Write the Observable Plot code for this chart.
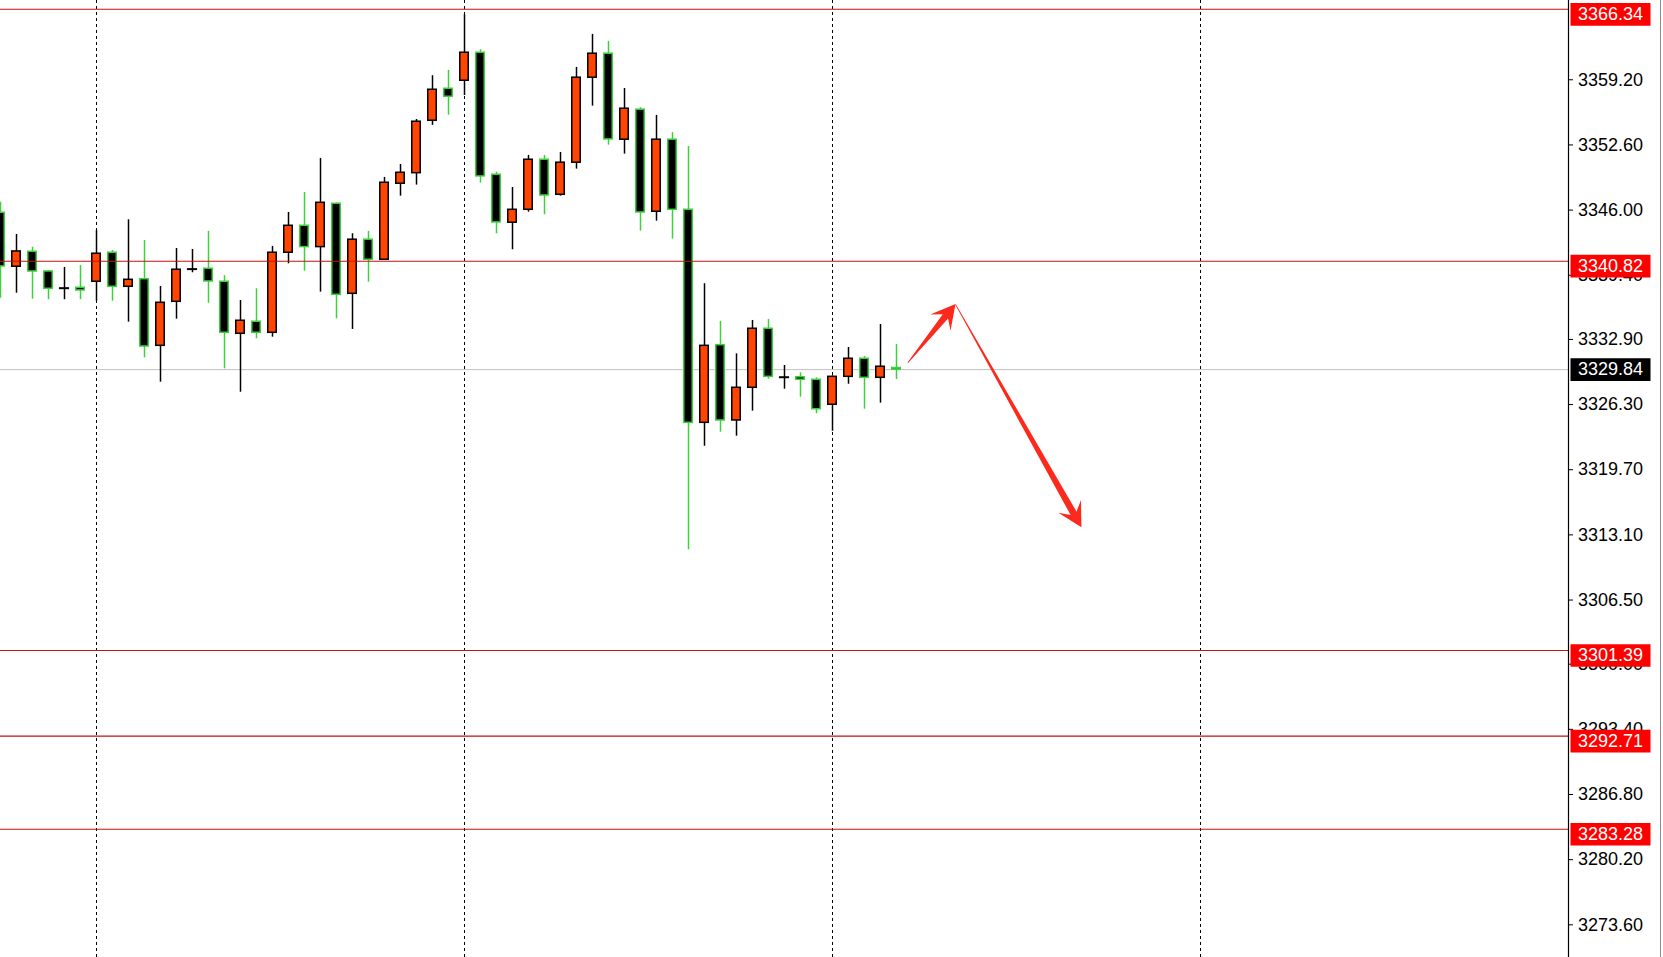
<!DOCTYPE html>
<html>
<head>
<meta charset="utf-8">
<script src="https://cdn.jsdelivr.net/npm/d3@7"></script>
<script src="https://cdn.jsdelivr.net/npm/@observablehq/plot@0.6"></script>
<style>
html, body { margin: 0; padding: 0; background: #fff; overflow: hidden; }
#chart { position: relative; width: 1663px; height: 957px; }
#chart svg { display: block; }
#edge { position: absolute; left: 1660px; top: 0; width: 1px; height: 957px; background: #8c8c8c; }
</style>
</head>
<body>
<div id="chart"><div id="edge"></div></div>
<script>
// ---- data (bar index 0..56, prices) ----
const openP  = [3345.73,3340.26,3341.78,3339.78,3338.09,3338.13,3338.74,3341.68,3338.23,3339.00,
                3332.25,3336.71,3340.02,3340.06,3338.74,3333.47,3334.69,3333.57,3341.68,3344.41,
                3342.25,3346.64,3337.52,3343.00,3340.97,3348.67,3349.74,3355.05,3358.29,3359.10,
                3361.94,3349.58,3344.72,3346.03,3351.10,3347.55,3350.80,3359.41,3361.84,3353.13,
                3356.17,3345.83,3353.13,3346.03,3324.45,3332.32,3324.69,3328.00,3333.98,3329.07,
                3329.07,3328.81,3326.28,3329.11,3330.94,3329.01,3330.00];
const highP  = [3346.80,3343.53,3342.24,3339.88,3340.19,3340.39,3343.94,3341.91,3345.02,3342.92,
                3338.26,3342.11,3342.01,3343.84,3339.35,3336.84,3338.03,3342.32,3345.76,3347.79,
                3351.23,3346.74,3343.60,3343.84,3349.31,3350.62,3355.18,3359.61,3360.15,3365.82,
                3362.24,3349.84,3348.29,3351.54,3351.54,3351.84,3360.45,3363.80,3363.09,3358.32,
                3356.37,3355.59,3353.84,3352.45,3338.54,3334.72,3331.44,3334.82,3334.92,3330.26,
                3329.52,3329.01,3329.20,3332.08,3331.17,3334.41,3332.39];
const lowP   = [3337.08,3337.58,3336.98,3336.92,3336.92,3336.92,3336.77,3336.77,3334.65,3331.04,
                3328.57,3334.95,3339.65,3336.57,3329.92,3327.55,3332.96,3333.13,3340.56,3339.81,
                3337.69,3334.99,3333.91,3338.70,3340.90,3347.41,3348.53,3354.58,3355.62,3357.61,
                3348.73,3343.60,3341.98,3345.79,3345.53,3347.41,3350.15,3356.53,3352.58,3351.67,
                3343.87,3344.88,3343.06,3311.59,3322.08,3323.50,3323.10,3325.63,3328.87,3327.86,
                3327.05,3325.37,3323.60,3328.36,3325.83,3326.44,3328.84];
const closeP = [3340.29,3341.81,3339.78,3338.03,3338.09,3337.86,3341.58,3338.23,3338.94,3332.18,
                3336.61,3339.96,3340.02,3338.77,3333.57,3334.79,3333.57,3341.68,3344.41,3342.25,
                3346.74,3337.42,3343.00,3340.97,3348.77,3349.78,3354.95,3358.19,3357.48,3361.94,
                3349.41,3344.75,3346.03,3351.10,3347.48,3350.80,3359.41,3361.84,3353.16,3356.27,
                3345.76,3353.13,3346.03,3324.45,3332.25,3324.69,3328.00,3333.98,3329.11,3329.07,
                3328.81,3325.83,3329.11,3330.94,3329.01,3330.13,3329.84];

const levelLines   = [3366.34, 3340.82, 3301.39, 3292.71, 3283.28];   // red horizontal lines
const currentPrice = [3329.84];                                      // bid line
const gridBars     = [6, 29, 52, 75];                                // dashed vertical separators
const yTicks       = [3359.20, 3352.60, 3346.00, 3339.40, 3332.90, 3326.30, 3319.70,
                      3313.10, 3306.50, 3300.00, 3293.40, 3286.80, 3280.20, 3273.60];
const yDomain      = [3270.29, 3367.23];
const xDomain      = [0, 98];

// arrows (bar index, price) from -> to
const arrowFromX = [56.74, 59.72];
const arrowFromY = [3330.49, 3336.40];
const arrowToX   = [59.72, 67.59];
const arrowToY   = [3336.44, 3313.82];

// ---- styling ----
const ORANGE = "#ff4500", GREEN = "#3bd13b", RED_LINE = "#c41010", RED_BOX = "#ff0000", ARROW = "#fb2a1c";

const candles = openP.map((o, i) => ({
  i, o, h: highP[i], l: lowP[i], c: closeP[i],
  dir: closeP[i] > o ? "up" : closeP[i] < o ? "down" : "flat"
}));
const bodyHalf = 0.266;

const redBox = { draw(ctx) { ctx.moveTo(2, -6.35); ctx.lineTo(82, -6.35); ctx.lineTo(82, 16.35); ctx.lineTo(2, 16.35); ctx.closePath(); } };
const blackBox = { draw(ctx) { ctx.moveTo(2, -11.35); ctx.lineTo(82, -11.35); ctx.lineTo(82, 11.35); ctx.lineTo(2, 11.35); ctx.closePath(); } };

function arrowsMark(index, scales) {
  const g = d3.create("svg:g");
  for (let k = 0; k < arrowFromX.length; k++) {
    const x0 = scales.x(arrowFromX[k]), y0 = scales.y(arrowFromY[k]);
    const x1 = scales.x(arrowToX[k]),   y1 = scales.y(arrowToY[k]);
    const dx = x1 - x0, dy = y1 - y0, L = Math.hypot(dx, dy);
    const ux = dx / L, uy = dy / L, nx = -uy, ny = ux;
    const P = (s, w) => [x0 + ux * s + nx * w, y0 + uy * s + ny * w];
    const pts = [P(0, 0.4), P(L - 16, 3.4), P(L - 24, 13), P(L, 0), P(L - 24, -13), P(L - 16, -3.4), P(0, -0.4)];
    g.append("path")
      .attr("d", "M" + pts.map(p => p[0].toFixed(2) + "," + p[1].toFixed(2)).join("L") + "Z")
      .attr("fill", ARROW);
  }
  return g.node();
}

const chart = Plot.plot({
  width: 1663,
  height: 957,
  marginLeft: 0,
  marginRight: 95,
  marginTop: 0,
  marginBottom: 0,
  style: { fontFamily: "'Liberation Sans', Arial, sans-serif", fontSize: "18px", background: "#fff", color: "#000" },
  x: { type: "linear", domain: xDomain, axis: null },
  y: { type: "linear", domain: yDomain, axis: null },
  marks: [
    Plot.ruleX(gridBars, { x: d => d, stroke: "#000", strokeWidth: 1, strokeDasharray: "3,3" }),
    Plot.ruleY(currentPrice, { y: d => d, stroke: "#c0c0c0", strokeWidth: 1 }),
    Plot.ruleX(candles, { x: "i", y1: "l", y2: "h", stroke: d => d.dir === "down" ? GREEN : "#000", strokeWidth: 1.5, clip: true }),
    Plot.rect(candles.filter(d => d.dir !== "flat"), {
      x1: d => d.i - bodyHalf, x2: d => d.i + bodyHalf, y1: "o", y2: "c",
      fill: d => d.dir === "up" ? ORANGE : "#000",
      stroke: d => d.dir === "up" ? "#000" : GREEN,
      strokeWidth: 1.5, clip: true
    }),
    Plot.ruleY(candles.filter(d => d.dir === "flat"), {
      x1: d => d.i - bodyHalf - 0.05, x2: d => d.i + bodyHalf + 0.05, y: "o", stroke: "#000", strokeWidth: 2, clip: true
    }),
    Plot.ruleY(levelLines, { y: d => d, stroke: RED_LINE, strokeWidth: 1.1 }),
    arrowsMark,
    Plot.ruleX([xDomain[1]], { x: d => d, stroke: "#000", strokeWidth: 1.2 }),
    Plot.axisY({ ticks: yTicks, anchor: "right", tickSize: 4, tickPadding: 5.5, tickFormat: d => d.toFixed(2), fontSize: 18, label: null, stroke: "#000", fill: "#000" }),
    Plot.dot(levelLines, { y: d => d, frameAnchor: "right", symbol: redBox, r: 10, fill: RED_BOX, stroke: "none" }),
    Plot.text(levelLines, { y: d => d, frameAnchor: "right", dx: 9.5, dy: 5, text: d => d.toFixed(2), textAnchor: "start", fill: "#fff", fontSize: 18 }),
    Plot.dot(currentPrice, { y: d => d, frameAnchor: "right", symbol: blackBox, r: 10, fill: "#000", stroke: "none" }),
    Plot.text(currentPrice, { y: d => d, frameAnchor: "right", dx: 9.5, text: d => d.toFixed(2), textAnchor: "start", fill: "#fff", fontSize: 18 })
  ]
});
document.getElementById("chart").appendChild(chart);
</script>
</body>
</html>
